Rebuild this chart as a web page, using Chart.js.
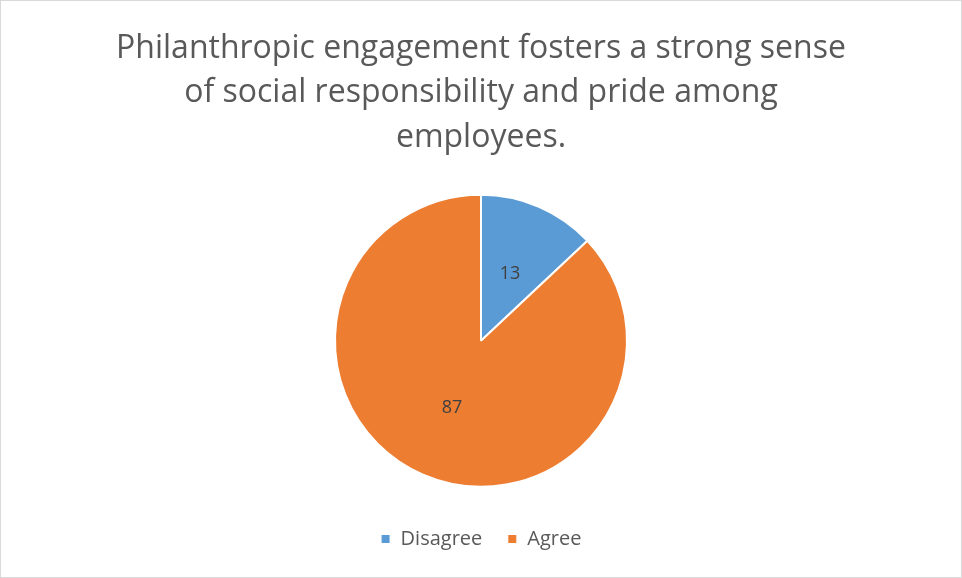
<!DOCTYPE html>
<html>
<head>
<meta charset="utf-8">
<script src="https://cdn.jsdelivr.net/npm/chart.js@4.4.0/dist/chart.umd.min.js"></script>
<style>
  html, body { margin: 0; padding: 0; background: #fff; }
  #wrap {
    width: 962px; height: 578px; box-sizing: border-box;
    border: 1px solid #d9d9d9; position: relative;
  }
</style>
</head>
<body>
<div id="wrap"><canvas id="chart"></canvas></div>
<script>
// Chart data
const categories = ['Disagree', 'Agree'];
const values = [13, 87];
const sliceColors = ['#5B9BD5', '#ED7D31'];
const titleLines = [
  'Philanthropic engagement fosters a strong sense',
  'of social responsibility and pride among',
  'employees.'
];

const FONT = "'Open Sans', 'Noto Sans', sans-serif";

// Draw the value inside each slice
const sliceLabels = {
  id: 'sliceLabels',
  afterDatasetsDraw(chart) {
    const ctx = chart.ctx;
    const meta = chart.getDatasetMeta(0);
    ctx.save();
    ctx.font = '18px ' + FONT;
    ctx.fillStyle = '#404040';
    ctx.textAlign = 'center';
    ctx.textBaseline = 'middle';
    meta.data.forEach((arc, i) => {
      const pos = arc.tooltipPosition();
      ctx.fillText(String(values[i]), pos.x, pos.y);
    });
    ctx.restore();
  }
};

new Chart(document.getElementById('chart'), {
  type: 'pie',
  data: {
    labels: categories,
    datasets: [{
      data: values,
      backgroundColor: sliceColors,
      borderColor: '#ffffff',
      borderWidth: 2,
      radius: 146
    }]
  },
  options: {
    responsive: true,
    maintainAspectRatio: false,
    animation: false,
    layout: { padding: { top: 0, bottom: 18 } },
    plugins: {
      title: {
        display: true,
        text: titleLines,
        color: '#595959',
        font: { family: FONT, size: 32, weight: 'normal', lineHeight: 1.4 },
        padding: { top: 25, bottom: 17 }
      },
      legend: {
        position: 'bottom',
        labels: {
          color: '#595959',
          font: { family: FONT, size: 20 },
          boxWidth: 10,
          boxHeight: 10,
          padding: 25
        }
      },
      tooltip: { enabled: false }
    }
  },
  plugins: [sliceLabels]
});
</script>
</body>
</html>
